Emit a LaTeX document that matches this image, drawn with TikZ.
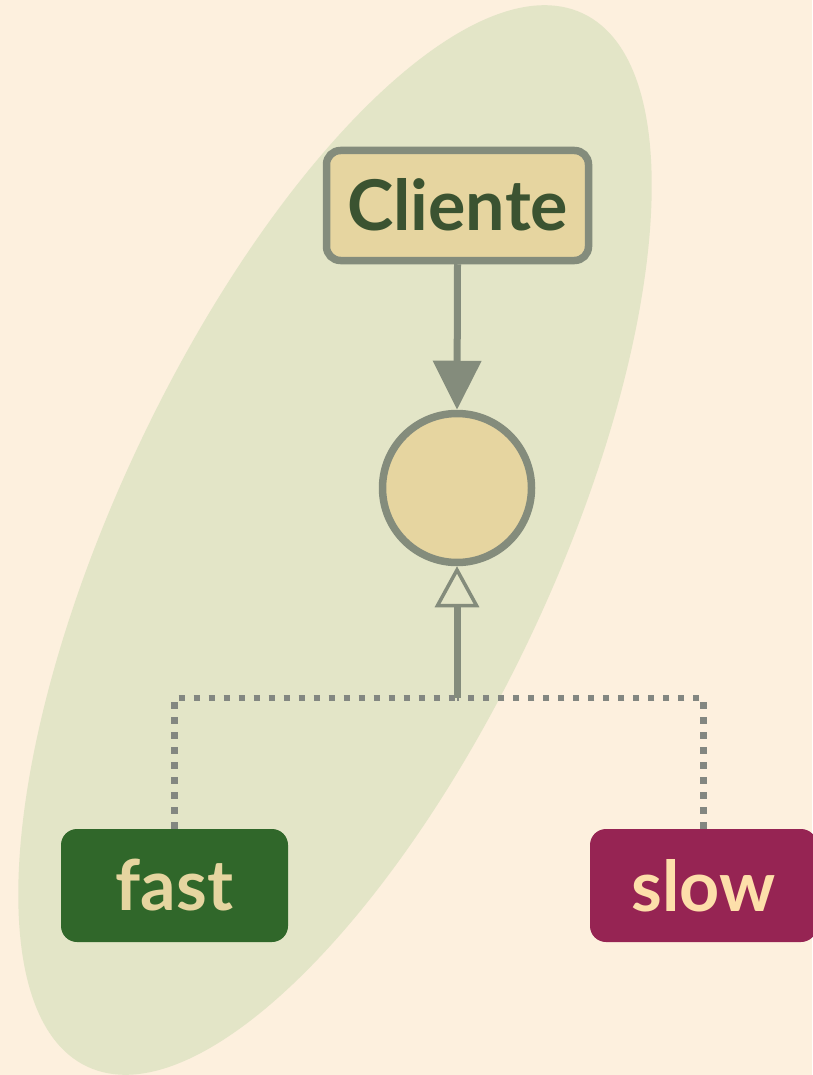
\documentclass[tikz,border=0pt]{standalone}
\usepackage{fontspec}
\setmainfont{Lato}
\usetikzlibrary{arrows.meta}
\definecolor{paper}{HTML}{FDF0DE}
\definecolor{zone}{HTML}{E3E5C7}
\definecolor{sand}{HTML}{E6D5A0}
\definecolor{sage}{HTML}{848C7C}
\definecolor{ink}{HTML}{3B5331}
\definecolor{fastgreen}{HTML}{30672A}
\definecolor{slowred}{HTML}{962453}
\definecolor{slowtext}{HTML}{FDDFAA}
\definecolor{dotgray}{HTML}{838781}
\tikzset{
  clientbox/.style={draw=sage, line width=7.5pt, fill=sand, rounded corners=14pt,
    minimum width=262pt, minimum height=110pt, inner sep=0pt,
    text=ink, font=\bfseries\fontsize{70}{70}\selectfont},
  hubcircle/.style={circle, draw=sage, line width=7.5pt, fill=sand, minimum size=149pt, inner sep=0pt},
  strategybox/.style={rounded corners=16pt, minimum width=227pt, minimum height=113pt,
    inner sep=0pt, font=\bfseries\fontsize{70}{70}\selectfont},
  uses/.style={draw=sage, line width=7pt, -{Triangle[width=47pt, length=49pt]}},
  realizes/.style={draw=sage, line width=7pt, -{Triangle[open, width=44pt, length=41pt, line width=3.5pt]}},
  branch/.style={draw=dotgray, line width=6.5pt, dash pattern=on 6.5pt off 8.5pt}
}
\begin{document}
\begin{tikzpicture}[x=1pt, y=-1pt]
  % canvas
  \fill[paper] (0,0) rectangle (812,1075);
  \useasboundingbox (0,0) rectangle (812,1075);
  % tilted grouping zone
  \fill[zone, rotate around={64.8:(335,540)}] (335,540) ellipse [x radius=582, y radius=218];

  % nodes
  \node[clientbox] (cliente) at (457.5,205.5) {\raisebox{3pt}{Cliente}};
  \node[hubcircle] (strategy) at (457,488) {};
  \node[strategybox, fill=fastgreen, text=sand] (fast) at (174.5,885.5) {fast};
  \node[strategybox, fill=slowred, text=slowtext] (slow) at (703.5,885.5) {slow};
  \coordinate (join) at (457,698);

  % connectors
  \draw[branch] (fast.north) |- (join);
  \draw[branch] (slow.north) |- (join);
  \draw[uses] (cliente.south) -- (strategy.north);
  \draw[realizes] (join) -- (strategy.south);
\end{tikzpicture}
\end{document}
